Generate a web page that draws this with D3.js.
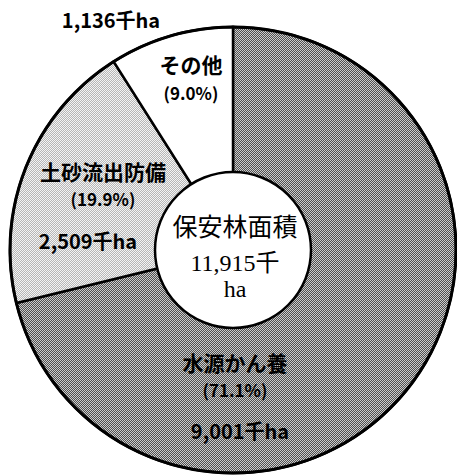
<!DOCTYPE html>
<html><head><meta charset="utf-8">
<script src="https://cdn.jsdelivr.net/npm/d3@7"></script>
<style>html,body{margin:0;padding:0;background:#fff;}</style>
</head><body>
<svg id="c" width="457" height="476"></svg>
<script>
const categories = ["水源かん養", "土砂流出防備", "その他"];
const values = [9001, 2509, 1136];
const percents = ["(71.1%)", "(19.9%)", "(9.0%)"];
const amounts = ["9,001千ha", "2,509千ha", "1,136千ha"];
const totalLines = ["保安林面積", "11,915千", "ha"];

const svg = d3.select("#c");
const cx = 233, cy = 250, R = 223, r0 = 78;
const defs = svg.append("defs");
function checker(id, a, b) {
  const p = defs.append("pattern").attr("id", id).attr("width", 2).attr("height", 2)
    .attr("patternUnits", "userSpaceOnUse");
  p.append("rect").attr("width", 2).attr("height", 2).attr("fill", b);
  p.append("rect").attr("x", 0).attr("y", 0).attr("width", 1).attr("height", 1).attr("fill", a);
  p.append("rect").attr("x", 1).attr("y", 1).attr("width", 1).attr("height", 1).attr("fill", a);
}
checker("pDark", "#505050", "#cccccc");
checker("pLight", "#b6b6b6", "#f4f4f4");
const fills = ["url(#pDark)", "url(#pLight)", "#ffffff"];

const pie = d3.pie().sort(null).value(d => d)(values);
const arc = d3.arc().innerRadius(0).outerRadius(R);
const g = svg.append("g").attr("transform", `translate(${cx},${cy})`);
g.selectAll("path.s").data(pie).join("path").attr("class", "s")
  .attr("d", arc).attr("fill", (d, i) => fills[i])
  .attr("stroke", "#000").attr("stroke-width", 2.5).attr("stroke-linejoin", "miter");
g.append("circle").attr("r", R).attr("fill", "none").attr("stroke", "#000").attr("stroke-width", 3);
g.append("circle").attr("r", r0).attr("fill", "#fff").attr("stroke", "#000").attr("stroke-width", 2.5);

const sans = "'Noto Sans CJK JP', 'Noto Sans', sans-serif";
const labelPos = [
  {x: 235, ys: [362, 389, 430], amtX: 240},
  {x: 103, ys: [171, 198, 240], amtX: 88},
  {x: 191, ys: [64, 92, 19], amtX: 111}
];
labelPos.forEach((p, i) => {
  const t = [categories[i], percents[i], amounts[i]];
  const xs = [p.x, p.x, p.amtX];
  const sizes = [21, 17, 20];
  t.forEach((s, k) => {
    svg.append("text").attr("x", xs[k]).attr("y", p.ys[k])
      .attr("text-anchor", "middle").attr("dominant-baseline", "central")
      .attr("font-family", sans).attr("font-weight", 700)
      .attr("font-size", sizes[k]).attr("fill", "#000").text(s);
  });
});
const serif = "'Liberation Serif', 'Noto Sans CJK JP', serif";
const tys = [227, 263, 289];
totalLines.forEach((s, k) => {
  svg.append("text").attr("x", 235).attr("y", tys[k])
    .attr("text-anchor", "middle").attr("dominant-baseline", "central")
    .attr("font-family", serif).attr("font-size", k === 0 ? 25 : 24)
    .attr("fill", "#000").text(s);
});
</script>
</body></html>
